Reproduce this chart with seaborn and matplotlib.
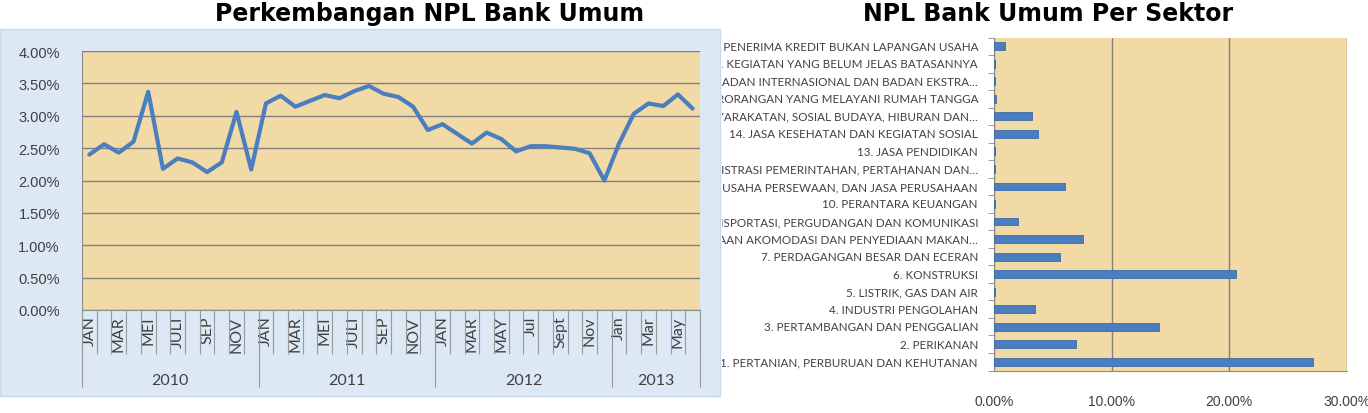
import numpy as np
import pandas as pd
import matplotlib
matplotlib.use("Agg")
import matplotlib.pyplot as plt
import seaborn as sns
from matplotlib.patches import Rectangle
from matplotlib.ticker import FuncFormatter
from matplotlib.transforms import blended_transform_factory, Bbox, TransformedBbox

# ---------------- data ----------------
years = ["2010", "2011", "2012", "2013"]
months_per_year = [12, 12, 12, 6]
month_labels = ["JAN", "MAR", "MEI", "JULI", "SEP", "NOV",
                "JAN", "MAR", "MEI", "JULI", "SEP", "NOV",
                "JAN", "MAR", "MAY", "Jul", "Sept", "Nov",
                "Jan", "Mar", "May"]
npl_monthly = [2.40, 2.56, 2.43, 2.60, 3.37, 2.18, 2.34, 2.28, 2.13, 2.28, 3.06, 2.17,
               3.19, 3.31, 3.14, 3.23, 3.32, 3.27, 3.38, 3.46, 3.34, 3.29, 3.14, 2.78,
               2.87, 2.72, 2.57, 2.74, 2.64, 2.45, 2.53, 2.53, 2.51, 2.49, 2.42, 2.00,
               2.57, 3.03, 3.19, 3.15, 3.33, 3.11]

sectors = ["1. PERTANIAN, PERBURUAN DAN KEHUTANAN",
           "2. PERIKANAN",
           "3. PERTAMBANGAN DAN PENGGALIAN",
           "4. INDUSTRI PENGOLAHAN",
           "5. LISTRIK, GAS DAN AIR",
           "6. KONSTRUKSI",
           "7. PERDAGANGAN BESAR DAN ECERAN",
           "8. PENYEDIAAN AKOMODASI DAN PENYEDIAAN MAKAN\u2026",
           "9. TRANSPORTASI, PERGUDANGAN DAN KOMUNIKASI",
           "10. PERANTARA KEUANGAN",
           "11. REAL ESTATE, USAHA PERSEWAAN, DAN JASA PERUSAHAAN",
           "12. ADMINISTRASI PEMERINTAHAN, PERTAHANAN DAN\u2026",
           "13. JASA PENDIDIKAN",
           "14. JASA KESEHATAN DAN KEGIATAN SOSIAL",
           "15. JASA KEMASYARAKATAN, SOSIAL BUDAYA, HIBURAN DAN\u2026",
           "16. JASA PERORANGAN YANG MELAYANI RUMAH TANGGA",
           "17. BADAN INTERNASIONAL DAN BADAN EKSTRA\u2026",
           "18. KEGIATAN YANG BELUM JELAS BATASANNYA",
           "19. PENERIMA KREDIT BUKAN LAPANGAN USAHA"]
sector_npl = [27.1, 7.0, 14.0, 3.5, 0.1, 20.6, 5.6, 7.6, 2.0, 0.1,
              6.0, 0.1, 0.1, 3.7, 3.2, 0.2, 0.1, 0.1, 0.9]

left_title = "Perkembangan NPL Bank Umum"
right_title = "NPL Bank Umum Per Sektor"

# ---------------- style ----------------
sns.set_style("white")
plt.rcParams["font.family"] = ["Lato", "DejaVu Sans"]

FW, FH = 1368, 414
fig = plt.figure(figsize=(FW / 100, FH / 100), dpi=100)
fig.patch.set_facecolor("white")

TAN = "#F2DAA6"
FRAME = "#DCE8F4"
GRID = "#808080"
AX = "#8C8C8C"
TXT = "#404040"
BLUE = "#4A7EBE"

# left chart frame
fig.patches.append(Rectangle((0, 1 - 397 / FH), 720 / FW, (397 - 30) / FH,
                             transform=fig.transFigure, facecolor=FRAME,
                             edgecolor="#C9D9EA", lw=1, zorder=-5))

# ---------------- left chart ----------------
ax1 = fig.add_axes([82 / FW, 1 - 311 / FH, 618 / FW, 259 / FH])
ax1.set_facecolor(TAN)
n = len(npl_monthly)
df1 = pd.DataFrame({"idx": np.arange(n), "npl": npl_monthly})
sns.lineplot(data=df1, x="idx", y="npl", ax=ax1, color=BLUE, lw=3.0, zorder=3)
ax1.set_xlim(-0.5, n - 0.5)
ax1.set_ylim(0, 4)
ax1.set_yticks(np.arange(0, 4.01, 0.5))
ax1.yaxis.set_major_formatter(FuncFormatter(lambda v, p: f"{v:.2f}%"))
ax1.grid(axis="y", color=GRID, lw=1.0)
ax1.grid(axis="x", visible=False)
ax1.set_axisbelow(True)
ax1.set_xlabel("")
ax1.set_ylabel("")
for s in ["top", "right"]:
    ax1.spines[s].set_visible(False)
for s in ["left", "bottom"]:
    ax1.spines[s].set_color(AX)
ax1.tick_params(axis="y", length=5, color=AX, labelsize=10.5, labelcolor=TXT, pad=11)
for t in ax1.get_yticklabels():
    t.set_family(["Liberation Sans"])
ax1.set_xticks(np.arange(0, n, 2))
ax1.set_xticklabels(month_labels, rotation=90, fontsize=11.5, color=TXT,
                    va="top", ha="center")
ax1.tick_params(axis="x", length=0, pad=4)

xt = ax1.get_xaxis_transform()
ax1.vlines(np.arange(-0.5, n, 1), 0, -44 / 259, transform=xt, clip_on=False,
           color="#9A9A9A", lw=0.8)
bounds = np.concatenate([[0], np.cumsum(months_per_year)]) - 0.5
ax1.vlines(bounds, 0, -77 / 259, transform=xt, clip_on=False, color="#9A9A9A", lw=0.8)
for i, y in enumerate(years):
    ax1.text((bounds[i] + bounds[i + 1]) / 2, -70 / 259, y, transform=xt,
             ha="center", va="center", fontsize=11.5, color=TXT)

# ---------------- right chart ----------------
ax2 = fig.add_axes([994 / FW, 1 - 371.5 / FH, 353 / FW, 333 / FH])
ax2.set_facecolor(TAN)
df2 = pd.DataFrame({"sector": sectors, "npl": sector_npl})
order = sectors[::-1]
sns.barplot(data=df2, y="sector", x="npl", order=order, orient="h", color=BLUE,
            saturation=1, width=0.45, edgecolor="#3B6CA8", linewidth=0.6, ax=ax2,
            zorder=3)
ax2.set_xlim(0, 30)
ax2.set_xticks([0, 10, 20, 30])
ax2.xaxis.set_major_formatter(FuncFormatter(lambda v, p: f"{v:.2f}%"))
ax2.grid(axis="x", color=GRID, lw=1.0)
ax2.grid(axis="y", visible=False)
ax2.set_axisbelow(True)
ax2.set_xlabel("")
ax2.set_ylabel("")
ax2.set_yticks(np.arange(len(order)))
ax2.set_yticklabels([])
ax2.set_yticks(np.arange(-0.5, len(order), 1), minor=True)
ax2.tick_params(axis="y", which="major", length=0)
ax2.tick_params(axis="y", which="minor", length=4, color=AX, left=True)
ax2.tick_params(axis="x", length=5, color=AX, labelsize=10, labelcolor=TXT, pad=12)
for t in ax2.get_xticklabels():
    t.set_family(["Liberation Sans"])
for s in ["top", "right"]:
    ax2.spines[s].set_visible(False)
for s in ["left", "bottom"]:
    ax2.spines[s].set_color(AX)

tr = blended_transform_factory(fig.transFigure, ax2.transData)
clip = TransformedBbox(Bbox([[722 / FW, 0], [1, 1]]), fig.transFigure)
for i, lab in enumerate(order):
    t = fig.text(978 / FW, i, lab, transform=tr, ha="right", va="center",
                 fontsize=8.35, color=TXT)
    t.set_clip_box(clip)
    t.set_clip_on(True)

# ---------------- titles ----------------
fig.text(430 / FW, 1 - 14 / FH, left_title, ha="center", va="center",
         fontsize=17, fontweight="bold", family=["DejaVu Sans"], color="black")
fig.text(1048 / FW, 1 - 14 / FH, right_title, ha="center", va="center",
         fontsize=17, fontweight="bold", family=["DejaVu Sans"], color="black")

fig.savefig("out.png", dpi=100)
